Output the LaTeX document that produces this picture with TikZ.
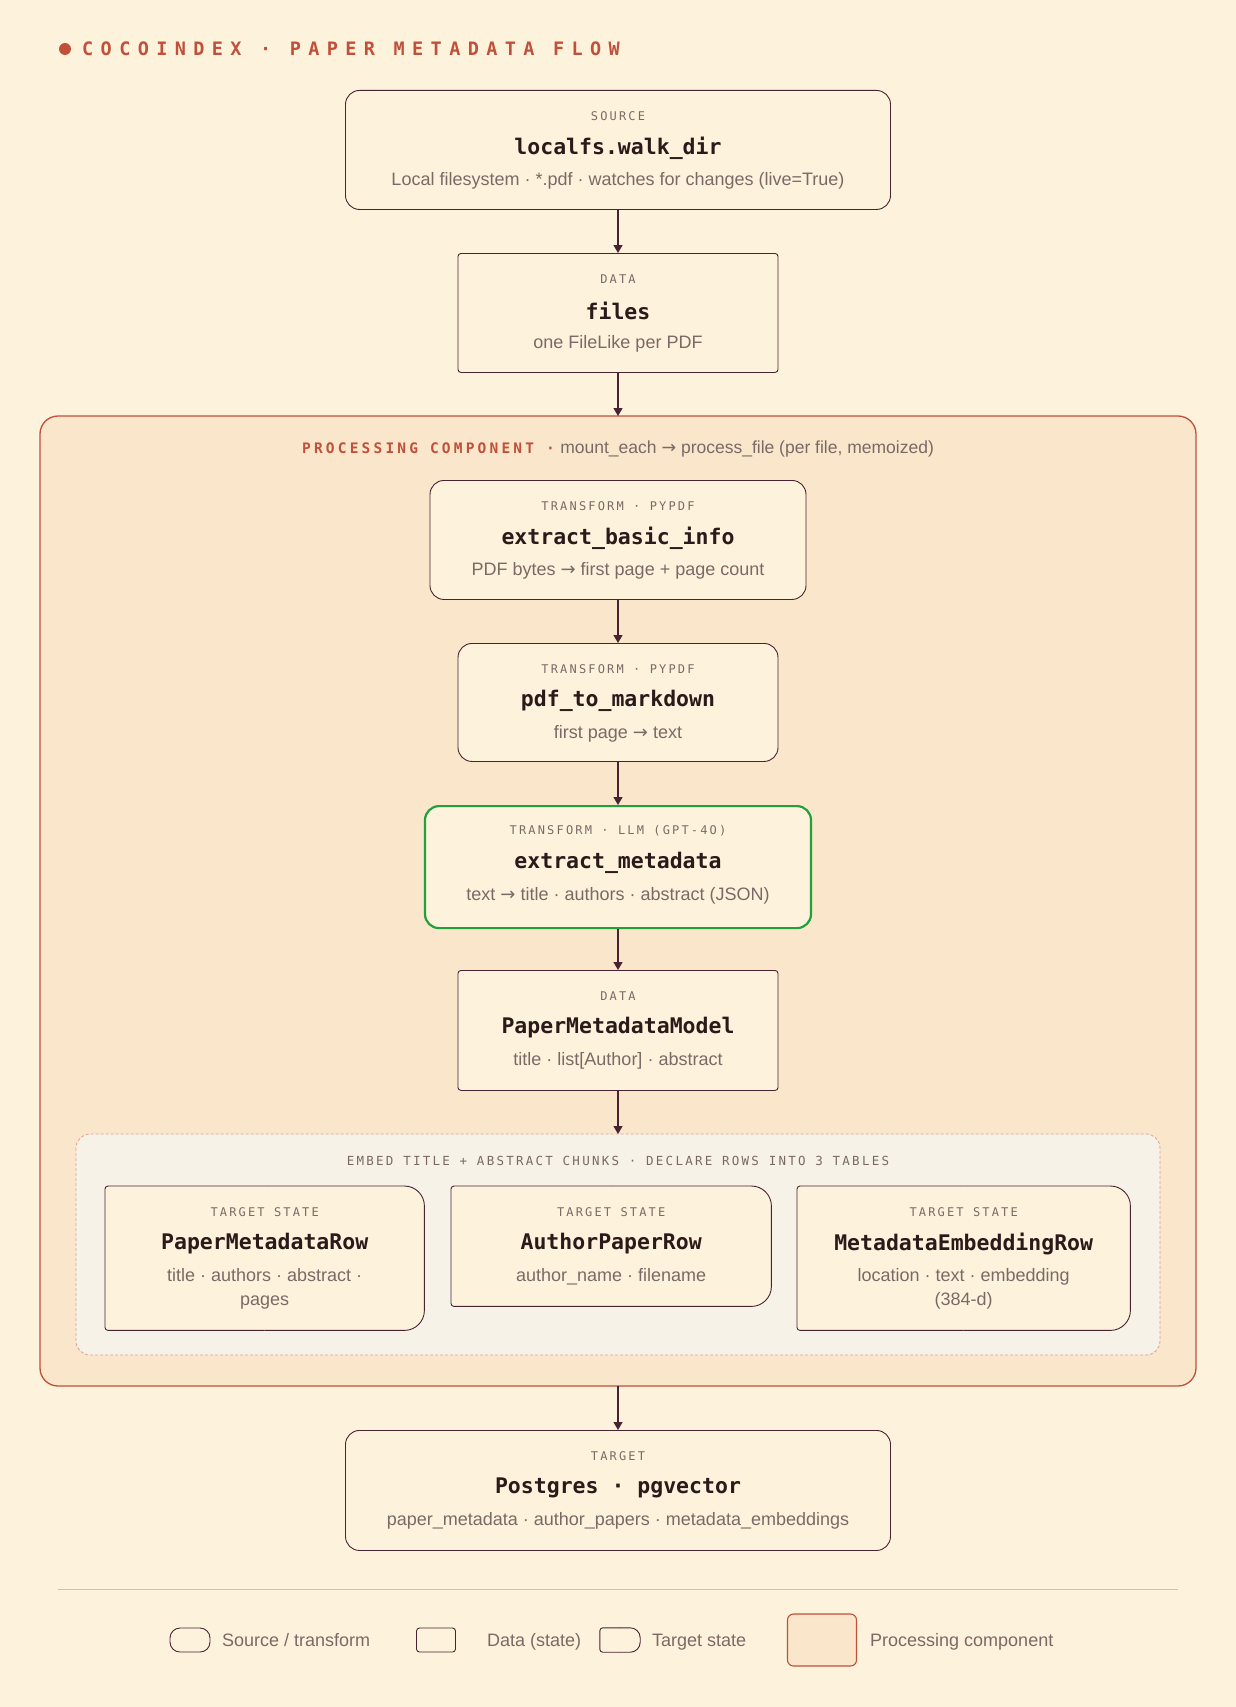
\documentclass[tikz,border=0pt]{standalone}
\usepackage{fontspec}
\setmainfont{Liberation Sans}
\newfontfamily\dvs{DejaVu Sans}
\newfontfamily\monob[LetterSpace=40]{DejaVu Sans Mono Bold}
\newfontfamily\monol[LetterSpace=18]{DejaVu Sans Mono}
\newfontfamily\monoll[LetterSpace=22]{DejaVu Sans Mono Bold}
\newfontfamily\monot{DejaVu Sans Mono Bold}
\usetikzlibrary{arrows.meta}
\definecolor{bg}{HTML}{FDF3DC}
\definecolor{procfill}{HTML}{FAE6CB}
\definecolor{red1}{HTML}{C0503A}
\definecolor{edge}{HTML}{4A2333}
\definecolor{ink}{HTML}{2A1A1A}
\definecolor{grey1}{HTML}{7A6A66}
\definecolor{green1}{HTML}{22A03A}
\definecolor{innerfill}{HTML}{F6F2E8}
\definecolor{dash1}{HTML}{E0A090}
\newcommand{\ar}{{\dvs →}}
\tikzset{
 srcbox/.style={draw=edge, line width=0.9pt, fill=bg, rounded corners=14pt},
 databox/.style={draw=edge, line width=0.9pt, fill=bg, rounded corners=3pt},
 lbl/.style={font=\fontsize{12}{14}\selectfont\monol, text=grey1, anchor=center, inner sep=0},
 ttl/.style={font=\fontsize{21.5}{24}\selectfont\monot, text=ink, anchor=center, inner sep=0},
 subt/.style={font=\fontsize{18}{24}\selectfont, text=grey1, anchor=center, inner sep=0, align=center},
 arr/.style={draw=edge, line width=1.2pt, -{Triangle[length=8pt,width=9pt]}}
}
\newcommand{\boxtext}[4]{%
 \node[lbl] (#1l) at ([yshift=-26]#1.north) {#2};
 \node[ttl] (#1t) at ([yshift=-58]#1.north) {#3};
 \node[subt, anchor=north] (#1s) at ([yshift=-82]#1.north) {#4};}
\newcommand{\targetbox}[2]{%
 \fill[bg, rounded corners=3pt] (#1.south west) rectangle ([xshift=-#2]#1.north east);
 \fill[bg, rounded corners=#2] ([xshift=#2]#1.south west) rectangle (#1.north east);
 \draw[edge, line width=0.9pt, rounded corners=3pt] (#1.south) -- (#1.south west) -- (#1.north west) -- (#1.north);
 \draw[edge, line width=0.9pt, rounded corners=#2] (#1.north) -- (#1.north east) -- (#1.south east) -- (#1.south);}
\begin{document}
\begin{tikzpicture}[x=1pt,y=-1pt]
\fill[bg] (0,0) rectangle (1236,1707);
\useasboundingbox (0,0) rectangle (1236,1707);
% title
\fill[red1] (65,49) circle (6);
\node[anchor=west, inner sep=0, text=red1, font=\fontsize{18.5}{20}\selectfont\monob] (title) at (82,49) {COCOINDEX · PAPER METADATA FLOW};
% processing component
\draw[red1, line width=1.3pt, fill=procfill, rounded corners=18pt] (40,416) rectangle (1196,1386);
\node[inner sep=0] (proclbl) at (618,449) {\textcolor{red1}{\fontsize{14.5}{16}\selectfont\monoll PROCESSING COMPONENT ·}\ \ \textcolor{grey1}{\fontsize{17.5}{18}\selectfont mount\_each \ar\ process\_file (per file, memoized)}};
% inner dashed
\draw[dash1, line width=0.8pt, dash pattern=on 3pt off 2pt, fill=innerfill, rounded corners=14pt] (76,1134) rectangle (1160,1355);
\node[lbl, font=\fontsize{12.5}{14}\selectfont\monol] (innerlbl) at (618,1161) {EMBED TITLE + ABSTRACT CHUNKS · DECLARE ROWS INTO 3 TABLES};
\coordinate (proctop) at (618,416);
\coordinate (procbot) at (618,1386);
\coordinate (innertop) at (618,1134);
% boxes
\node[srcbox, minimum width=545, minimum height=119, anchor=north] (src) at (618,90) {};
\boxtext{src}{SOURCE}{localfs.walk\_dir}{Local filesystem · *.pdf · watches for changes (live=True)}
\node[databox, minimum width=320, minimum height=119, anchor=north] (files) at (618,253) {};
\boxtext{files}{DATA}{files}{one FileLike per PDF}
\node[srcbox, minimum width=376, minimum height=119, anchor=north] (ebi) at (618,480) {};
\boxtext{ebi}{TRANSFORM · PYPDF}{extract\_basic\_info}{PDF bytes \ar\ first page + page count}
\node[srcbox, minimum width=320, minimum height=118, anchor=north] (ptm) at (618,643) {};
\boxtext{ptm}{TRANSFORM · PYPDF}{pdf\_to\_markdown}{first page \ar\ text}
\node[srcbox, draw=green1, line width=2.2pt, minimum width=386, minimum height=122, anchor=north] (em) at (618,805) {};
\boxtext{em}{TRANSFORM · LLM (GPT-4O)}{extract\_metadata}{text \ar\ title · authors · abstract (JSON)}
\node[databox, minimum width=320, minimum height=120, anchor=north] (pmm) at (618,970) {};
\boxtext{pmm}{DATA}{PaperMetadataModel}{title · list[Author] · abstract}
% target states
\node[minimum width=319, minimum height=144, inner sep=0, anchor=north west] (t1) at (105,1186) {};
\targetbox{t1}{20pt}
\boxtext{t1}{TARGET STATE}{PaperMetadataRow}{title · authors · abstract ·\\pages}
\node[minimum width=320, minimum height=120, inner sep=0, anchor=north west] (t2) at (451,1186) {};
\targetbox{t2}{20pt}
\boxtext{t2}{TARGET STATE}{AuthorPaperRow}{author\_name · filename}
\node[minimum width=333, minimum height=144, inner sep=0, anchor=north west] (t3) at (797,1186) {};
\targetbox{t3}{20pt}
\boxtext{t3}{TARGET STATE}{MetadataEmbeddingRow}{location · text · embedding\\(384-d)}
% target
\node[srcbox, minimum width=545, minimum height=120, anchor=north] (pg) at (618,1430) {};
\boxtext{pg}{TARGET}{Postgres · pgvector}{paper\_metadata · author\_papers · metadata\_embeddings}
% arrows
\draw[arr] (src.south) -- (files.north);
\draw[arr] (files.south) -- (proctop);
\draw[arr] (ebi.south) -- (ptm.north);
\draw[arr] (ptm.south) -- (em.north);
\draw[arr] (em.south) -- (pmm.north);
\draw[arr] (pmm.south) -- (innertop);
\draw[arr] (procbot) -- (pg.north);
% legend
\draw[draw=dash1!70!bg, line width=0.8pt] (58,1589) -- (1178,1589);
\node[srcbox, rounded corners=10pt, minimum width=40, minimum height=24, inner sep=0] (lg1) at (190,1640) {};
\node[subt, anchor=base west] (lt1) at (222,1646) {Source / transform};
\node[databox, minimum width=39, minimum height=24, inner sep=0] (lg2) at (436,1640) {};
\node[subt, anchor=base west] (lt2) at (487,1646) {Data (state)};
\node[minimum width=40, minimum height=24, inner sep=0] (lg3) at (620,1640) {};
\targetbox{lg3}{10pt}
\node[subt, anchor=base west] (lt3) at (652,1646) {Target state};
\node[draw=red1, line width=1.1pt, fill=procfill, rounded corners=6pt, minimum width=69, minimum height=52, inner sep=0] (lg4) at (822,1640) {};
\node[subt, anchor=base west] (lt4) at (870,1646) {Processing component};
\end{tikzpicture}
\end{document}
